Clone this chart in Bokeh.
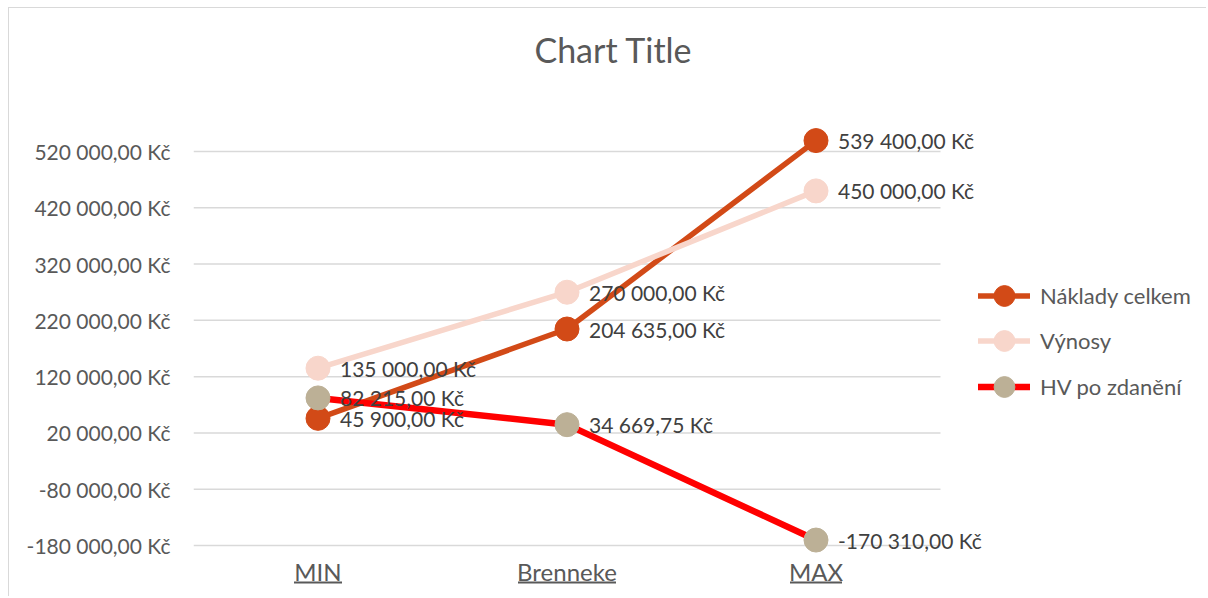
from bokeh.plotting import figure
from bokeh.models import (ColumnDataSource, Range1d, FixedTicker, Legend, LegendItem,
                          Label, BoxAnnotation)
from bokeh.core.properties import value
from bokeh.embed import file_html
from bokeh.resources import INLINE

# ---- data ----
categories = ["MIN", "Brenneke", "MAX"]
naklady = [45900.00, 204635.00, 539400.00]
vynosy = [135000.00, 270000.00, 450000.00]
hv = [82215.00, 34669.75, -170310.00]
series_names = ["Náklady celkem", "Výnosy", "HV po zdanění"]
y_ticks = [-180000, -80000, 20000, 120000, 220000, 320000, 420000, 520000]
title_text = "Chart Title"


def czk(v):
    s = f"{abs(v):,.2f}".replace(",", " ").replace(".", ",")
    return ("-" if v < 0 else "") + s + " Kč"


FONT = "Lato"
AXIS_COLOR = "#595959"
LABEL_COLOR = "#404040"
GRID = "#D9D9D9"

line_colors = ["#D24A17", "#F8D6CB", "#FF0000"]
marker_colors = ["#D24A17", "#F8D6CB", "#BCB096"]
line_widths = [5.5, 5.5, 6.5]

# ---- layout geometry (pixels) ----
W, H = 1198, 589
LEFT = 184            # space for the value axis
CAT_PX = 249          # width of one category slot
AX_BOTTOM_GAP = 52    # px from frame bottom up to the axis minimum
AX_TOP_GAP = 143      # px from frame top down to the top tick
AX_SPAN_PX = 394      # px between lowest and highest tick
n = len(categories)
upx = (y_ticks[-1] - y_ticks[0]) / AX_SPAN_PX
x_end = (W - LEFT) / CAT_PX
xs = [i + 0.5 for i in range(n)]

p = figure(width=W, height=H, output_backend="svg", toolbar_location=None,
           x_range=Range1d(0, x_end),
           y_range=Range1d(y_ticks[0] - AX_BOTTOM_GAP * upx, y_ticks[-1] + AX_TOP_GAP * upx),
           x_axis_type=None,
           min_border_left=LEFT, min_border_right=0, min_border_top=0, min_border_bottom=0)
p.styles = {"margin-left": "8px", "margin-top": "7px",
            "border-left": "1px solid #D9D9D9", "border-top": "1px solid #D9D9D9"}
p.outline_line_color = None
p.background_fill_color = "white"
p.border_fill_color = "white"

# value axis
p.yaxis.ticker = FixedTicker(ticks=y_ticks)
p.yaxis.major_label_overrides = {t: czk(t) for t in y_ticks}
p.yaxis.axis_line_color = None
p.yaxis.major_tick_line_color = None
p.yaxis.minor_tick_line_color = None
p.yaxis.major_label_standoff = 17
p.yaxis.major_label_text_font = FONT
p.yaxis.major_label_text_font_size = "21px"
p.yaxis.major_label_text_color = AXIS_COLOR
p.xgrid.grid_line_color = None
p.ygrid.grid_line_color = None

# gridlines across the category area only
p.segment(x0=0, x1=n, y0=y_ticks, y1=y_ticks, line_color=GRID, line_width=1.5)

items = []
label_x, label_y, label_t = [], [], []
for name, vals, lc, mc, lw in zip(series_names, [naklady, vynosy, hv], line_colors,
                                  marker_colors, line_widths):
    src = ColumnDataSource(dict(x=xs, y=vals))
    r1 = p.line("x", "y", source=src, line_color=lc, line_width=lw, line_cap="round",
                line_join="round")
    r2 = p.scatter("x", "y", source=src, size=24, fill_color=mc, line_color=mc)
    items.append(LegendItem(label=name, renderers=[r1, r2]))
    label_x += xs
    label_y += vals
    label_t += [czk(v) for v in vals]

lsrc = ColumnDataSource(dict(x=label_x, y=label_y, t=label_t))
p.text("x", "y", text="t", source=lsrc, x_offset=22, text_baseline="middle",
       text_align="left", text_font=value(FONT), text_font_size="21px",
       text_color=LABEL_COLOR)

# category labels
csrc = ColumnDataSource(dict(x=xs, y=[y_ticks[0]] * n, t=categories))
p.text("x", "y", text="t", source=csrc, y_offset=26, text_baseline="middle",
       text_align="center", text_font=value(FONT), text_font_size="24px",
       text_color=AXIS_COLOR)

# underline decoration for category labels (approx. text half widths in px)
half_px = {"MIN": 24, "Brenneke": 49, "MAX": 26}
for x, c in zip(xs, categories):
    hw = half_px[c] / CAT_PX
    p.add_layout(BoxAnnotation(left=x - hw, right=x + hw, bottom=14, top=16,
                               bottom_units="screen", top_units="screen",
                               fill_color=AXIS_COLOR, fill_alpha=1, line_color=None))

# legend: one entry per block so that the row pitch is tighter than the glyph box
LEG_X = 785
LEG_BOTTOM = 274.5
LEG_PITCH = 45.5
for i, item in enumerate(items):
    lg = Legend(items=[item], location=(LEG_X, LEG_BOTTOM - i * LEG_PITCH),
                glyph_width=52, glyph_height=55, label_height=55, spacing=0, padding=0,
                margin=0, label_standoff=10, label_text_font=FONT,
                label_text_font_size="22px", label_text_color=AXIS_COLOR,
                border_line_color=None, background_fill_alpha=0)
    p.add_layout(lg, "center")

p.add_layout(Label(x=420, y=548, x_units="screen", y_units="screen", text=title_text,
                   text_align="center", text_baseline="middle", text_font=FONT,
                   text_font_size="34px", text_color=AXIS_COLOR))

open("out.html", "w").write(file_html(p, INLINE))
